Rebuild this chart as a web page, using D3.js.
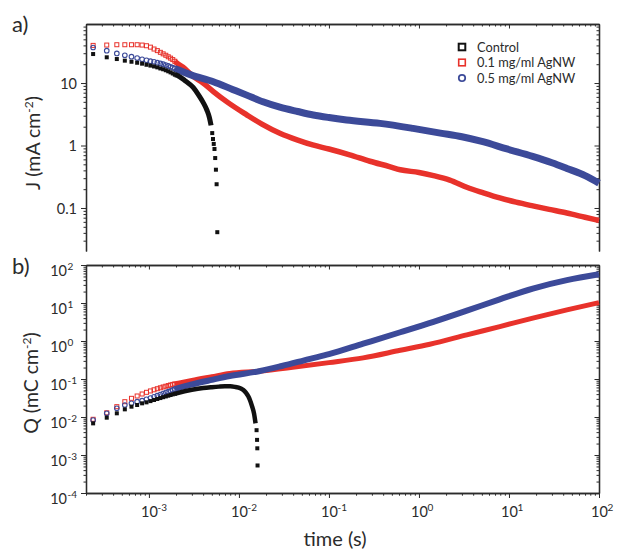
<!DOCTYPE html>
<html>
<head>
<meta charset="utf-8">
<script src="https://cdn.jsdelivr.net/npm/d3@7"></script>
<style>
  body { margin: 0; background: #fff; }
  svg { display: block; }
  svg text { font-family: Lato, "Open Sans", sans-serif; }
</style>
</head>
<body>
<svg id="chart" width="617" height="552"></svg>
<script>
// early samples, still resolved as separate markers (s)
const dotTimes = [0.00024, 0.00034, 0.00044, 0.00054, 0.00064, 0.00074, 0.00084, 0.00094, 0.00104,
  0.00114, 0.00124, 0.00134, 0.00144, 0.00154, 0.00164, 0.00174, 0.00184, 0.00194];

// current density J (mA cm-2) at dotTimes
const jControlDots = [29.1, 25.8, 24.2, 22.8, 21.9, 21.1, 20.4, 19.6, 19.0, 18.4, 17.8, 17.1, 16.6, 16.0, 15.4, 14.8, 14.2, 13.6];
const jLowDots = [40, 40.5, 41, 41, 41, 41, 40.5, 39.5, 37.5, 35, 33, 31, 29.3, 27.8, 26.3, 25, 23.7, 22.3];
const jHighDots = [37, 32.9, 29.8, 27.8, 26.4, 25.1, 23.9, 23.1, 22.4, 21.8, 21.2, 20.6, 20.0, 19.4, 18.8, 18.2, 17.6, 17.0];

// charge Q (mC cm-2) at dotTimes
const qControlDots = [0.0068, 0.0096, 0.0125, 0.0159, 0.0187, 0.0207, 0.0229, 0.0243, 0.0262, 0.028, 0.0298, 0.0315, 0.0332, 0.0348, 0.0364, 0.0379, 0.0394, 0.0408];
const qLowDots = [0.0087, 0.0129, 0.0187, 0.0253, 0.031, 0.0357, 0.0403, 0.0446, 0.0485, 0.052, 0.0555, 0.0587, 0.0617, 0.0645, 0.0672, 0.0697, 0.072, 0.0743];
const qHighDots = [0.0083, 0.0125, 0.0169, 0.0207, 0.0229, 0.0253, 0.0269, 0.0292, 0.0316, 0.034, 0.0365, 0.039, 0.0415, 0.044, 0.0465, 0.049, 0.0515, 0.054];

// dense part of each record (markers merge into a band)
const jControlBandT = [0.00194, 0.00203, 0.0025, 0.0031, 0.0036, 0.004, 0.0044, 0.0047, 0.0049];
const jControlBand = [13.6, 13.4, 11, 8.5, 6.3, 4.9, 3.7, 2.8, 2.1];
const jControlTailT = [0.00505, 0.00515, 0.00525, 0.00535, 0.00545, 0.00555, 0.00565, 0.00575];
const jControlTail = [1.58, 1.27, 1.06, 0.88, 0.63, 0.41, 0.24, 0.041];

const jLowBandT = [0.00194, 0.00203, 0.0025, 0.00298, 0.004, 0.0052, 0.0075, 0.0122, 0.018, 0.0285, 0.045, 0.066,
  0.1, 0.17, 0.285, 0.47, 0.62, 1, 1.45, 2.2, 3.4, 5.2, 7.9, 12, 18.4, 28, 44, 70, 100];
const jLowBand = [22.3, 21, 17, 13.4, 10, 7.3, 4.9, 3.1, 2.2, 1.57, 1.22, 1.02,
  0.88, 0.71, 0.56, 0.46, 0.41, 0.37, 0.33, 0.28, 0.215, 0.175, 0.145, 0.124, 0.108, 0.095, 0.083, 0.071, 0.063];

const jHighBandT = [0.00194, 0.00203, 0.00298, 0.0052, 0.0085, 0.0122, 0.0185, 0.0285, 0.045, 0.067, 0.1, 0.157,
  0.37, 0.86, 1.73, 3, 5, 9.5, 18.3, 30, 44, 70, 100];
const jHighBand = [17.0, 16.6, 13.4, 10.5, 7.9, 6.4, 5.0, 4.1, 3.5, 3.08, 2.8, 2.56,
  2.26, 1.88, 1.58, 1.38, 1.16, 0.88, 0.67, 0.53, 0.43, 0.33, 0.25];

const qControlBandT = [0.00194, 0.00203, 0.003, 0.004, 0.005, 0.006, 0.007, 0.008, 0.009, 0.0105, 0.0112,
  0.012, 0.0127, 0.01325, 0.014, 0.0147, 0.0153];
const qControlBand = [0.0408, 0.042, 0.052, 0.058, 0.061, 0.063, 0.064, 0.064, 0.062, 0.056, 0.051,
  0.043, 0.035, 0.028, 0.019, 0.0125, 0.0068];
const qControlTailT = [0.0157, 0.0159, 0.016, 0.0161];
const qControlTail = [0.0045, 0.0025, 0.0015, 0.00053];

const qLowBandT = [0.00194, 0.00203, 0.003, 0.005, 0.0079, 0.0167, 0.0437, 0.1, 0.24, 0.62, 1.32, 3.4, 7.9, 18.4, 44, 100];
const qLowBand = [0.0743, 0.076, 0.092, 0.115, 0.14, 0.16, 0.21, 0.27, 0.36, 0.57, 0.82, 1.45, 2.4, 4.0, 6.6, 10.2];

const qHighBandT = [0.00194, 0.00203, 0.003, 0.005, 0.0079, 0.0167, 0.03, 0.0617, 0.1, 0.24, 0.62, 1.45, 3.4, 7.9, 18.4, 44, 100];
const qHighBand = [0.054, 0.056, 0.072, 0.095, 0.12, 0.16, 0.22, 0.34, 0.45, 0.85, 1.7, 3.2, 6.3, 12.5, 24, 40, 57];

const legendLabels = ['Control', '0.1 mg/ml AgNW', '0.5 mg/ml AgNW'];

const RED = '#e8322b';
const BLUE = '#3c4a99';
const BLACK = '#111';
const INK = '#2b2b2b';
const FONT = 'Lato, "Open Sans", sans-serif';

const svg = d3.select('#chart');

const x = d3.scaleLog().domain([2e-4, 100]).range([86, 599]);
const yJ = d3.scaleLog().domain([0.0205, 88]).range([251, 24]);
const yQ = d3.scaleLog().domain([1e-4, 100]).range([493, 265]);

const isMajor = (d) => Math.abs(Math.log10(d) - Math.round(Math.log10(d))) < 1e-6;

function zip(t, v) {
  return t.map((d, i) => ({t: d, v: v[i]}));
}

// draws major and minor ticks for one side of a panel
function drawAxis(g, axisFn, scale, major, minor, inward) {
  const s = inward ? -1 : 1;
  const all = scale.ticks();
  g.append('g').call(axisFn(scale).tickValues(all.filter((d) => !isMajor(d)))
      .tickSize(s * minor).tickSizeOuter(0).tickFormat(''));
  const maj = g.append('g').call(axisFn(scale).tickValues(all.filter(isMajor))
      .tickSize(s * major).tickSizeOuter(0).tickFormat(''));
  g.selectAll('path.domain').attr('stroke', INK).attr('stroke-width', 1.3);
  g.selectAll('.tick line').attr('stroke', INK).attr('stroke-width', 1);
  g.selectAll('g').attr('font-family', FONT);
  return maj;
}

// "10" with the exponent as a superscript
function powerLabel(tick, d, anchor, dx, dy) {
  const e = Math.round(Math.log10(d));
  tick.append('text').attr('x', dx).attr('y', dy).attr('text-anchor', anchor)
      .attr('fill', INK).attr('font-size', 14.5).text('10');
  const supX = anchor === 'middle' ? dx + 8 : dx + 0.5;
  tick.append('text').attr('x', supX).attr('y', dy - 6).attr('text-anchor', 'start')
      .attr('fill', INK).attr('font-size', 10).text(e);
}

function drawMarks(g, t, v, yScale, kind) {
  const data = zip(t, v);
  if (kind === 'circle') {
    g.selectAll(null).data(data).enter().append('circle')
        .attr('cx', (d) => x(d.t)).attr('cy', (d) => yScale(d.v)).attr('r', 2.3)
        .attr('fill', 'none').attr('stroke', BLUE).attr('stroke-width', 1.1);
  } else {
    const filled = kind === 'filled';
    g.selectAll(null).data(data).enter().append('rect')
        .attr('x', (d) => x(d.t) - 2).attr('y', (d) => yScale(d.v) - 2)
        .attr('width', 4).attr('height', 4)
        .attr('fill', filled ? BLACK : 'none')
        .attr('stroke', filled ? 'none' : RED).attr('stroke-width', 1);
  }
}

function drawBand(g, t, v, yScale, color, width) {
  const line = d3.line().x((d) => x(d.t)).y((d) => yScale(d.v)).curve(d3.curveMonotoneX);
  g.append('path').datum(zip(t, v)).attr('d', line)
      .attr('fill', 'none').attr('stroke', color).attr('stroke-width', width)
      .attr('stroke-linejoin', 'round');
}

// ---- panel a) J ----
const pa = svg.append('g');
drawAxis(pa.append('g').attr('transform', `translate(0,${yJ.range()[1]})`), d3.axisTop, x, 4.5, 2.5, true);
drawAxis(pa.append('g').attr('transform', `translate(${x.range()[1]},0)`), d3.axisRight, yJ, 4.5, 2.5, true);
const aLeft = drawAxis(pa.append('g').attr('transform', `translate(${x.range()[0]},0)`), d3.axisLeft, yJ, 5, 2.5, false);
aLeft.selectAll('.tick').each(function(d) {
  d3.select(this).append('text').attr('x', -9).attr('dy', '0.36em').attr('text-anchor', 'end')
      .attr('fill', INK).attr('font-size', 14.5).text(d >= 1 ? d3.format('d')(d) : d3.format('.1f')(d));
});

const pad = pa.append('g');
drawBand(pad, jLowBandT, jLowBand, yJ, RED, 5.5);
drawMarks(pad, dotTimes, jLowDots, yJ, 'square');
drawBand(pad, jHighBandT, jHighBand, yJ, BLUE, 7);
drawMarks(pad, dotTimes, jHighDots, yJ, 'circle');
drawBand(pad, jControlBandT, jControlBand, yJ, BLACK, 5);
drawMarks(pad, dotTimes, jControlDots, yJ, 'filled');
drawMarks(pad, jControlTailT, jControlTail, yJ, 'filled');

// ---- panel b) Q ----
const pb = svg.append('g');
drawAxis(pb.append('g').attr('transform', `translate(0,${yQ.range()[1]})`), d3.axisTop, x, 4.5, 2.5, true);
drawAxis(pb.append('g').attr('transform', `translate(${x.range()[1]},0)`), d3.axisRight, yQ, 4.5, 2.5, true);
const bLeft = drawAxis(pb.append('g').attr('transform', `translate(${x.range()[0]},0)`), d3.axisLeft, yQ, 5, 2.5, false);
bLeft.selectAll('.tick').each(function(d) {
  powerLabel(d3.select(this), d, 'end', -19, 10);
});
const bBottom = drawAxis(pb.append('g').attr('transform', `translate(0,${yQ.range()[0]})`), d3.axisBottom, x, 5, 2.7, false);
bBottom.selectAll('.tick').each(function(d) {
  powerLabel(d3.select(this), d, 'middle', 0, 24);
});

const pbd = pb.append('g');
drawBand(pbd, qLowBandT, qLowBand, yQ, RED, 5);
drawMarks(pbd, dotTimes, qLowDots, yQ, 'square');
drawBand(pbd, qHighBandT, qHighBand, yQ, BLUE, 6);
drawMarks(pbd, dotTimes, qHighDots, yQ, 'circle');
drawBand(pbd, qControlBandT, qControlBand, yQ, BLACK, 4.5);
drawMarks(pbd, dotTimes, qControlDots, yQ, 'filled');
drawMarks(pbd, qControlTailT, qControlTail, yQ, 'filled');

// ---- titles ----
svg.append('text').attr('x', 12).attr('y', 32).attr('font-size', 22).attr('fill', INK).text('a)');
svg.append('text').attr('x', 12).attr('y', 274).attr('font-size', 22).attr('fill', INK).text('b)');

function yTitle(cx, cy, letter, unit) {
  const t = svg.append('text').attr('transform', `translate(${cx},${cy}) rotate(-90)`)
      .attr('text-anchor', 'middle').attr('font-size', 19.5).attr('fill', INK);
  t.append('tspan').text(`${letter} (${unit} cm`);
  t.append('tspan').attr('dy', -7).attr('font-size', 12).text('-2');
  t.append('tspan').attr('dy', 7).text(')');
}
yTitle(40, 143, 'J', 'mA');
yTitle(38, 383, 'Q', 'mC');

svg.append('text').attr('x', 335).attr('y', 546).attr('text-anchor', 'middle')
    .attr('font-size', 20).attr('fill', INK).text('time (s)');

// ---- legend ----
const leg = svg.append('g').attr('transform', 'translate(462,47)');
legendLabels.forEach((label, i) => {
  const row = leg.append('g').attr('transform', `translate(0,${i * 15.5})`);
  if (i === 2) {
    row.append('circle').attr('r', 3.2).attr('fill', 'none').attr('stroke', BLUE).attr('stroke-width', 1.8);
  } else {
    row.append('rect').attr('x', -3.3).attr('y', -3.3).attr('width', 6.6).attr('height', 6.6)
        .attr('fill', 'none').attr('stroke', i === 0 ? BLACK : RED).attr('stroke-width', i === 0 ? 2 : 1.6);
  }
  row.append('text').attr('x', 15).attr('dy', '0.36em').attr('font-size', 12.8)
      .attr('fill', INK).text(label);
});
</script>
</body>
</html>
